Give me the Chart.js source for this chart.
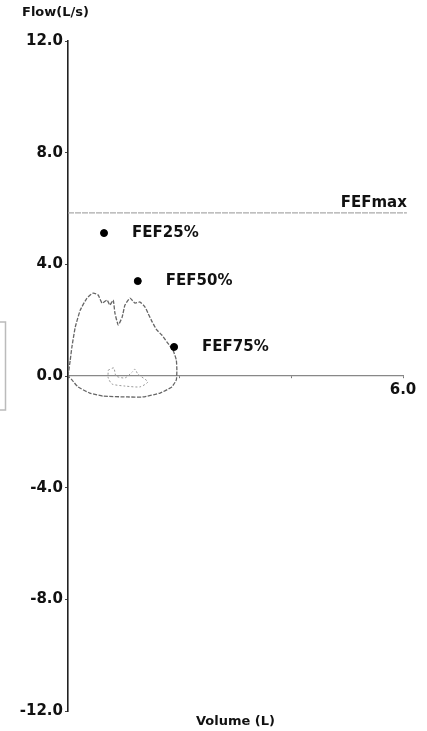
<!DOCTYPE html>
<html>
<head>
<meta charset="utf-8">
<script src="https://cdn.jsdelivr.net/npm/chart.js@4"></script>
<style>
  html, body { margin: 0; padding: 0; background: #fff; }
  #wrap { width: 427px; height: 731px; position: relative; }
</style>
</head>
<body>
<div id="wrap"><canvas id="flowChart"></canvas></div>
<script>
// === Data ===
// expiratory / inspiratory loop (volume L, flow L/s)
const loopVolume = [0, 0.04, 0.07, 0.13, 0.22, 0.34, 0.45, 0.54, 0.61, 0.70, 0.75, 0.81, 0.84, 0.90, 0.97, 1.02, 1.11, 1.20, 1.29, 1.38, 1.43, 1.51, 1.59, 1.68, 1.77, 1.88, 1.94, 1.95, 1.94, 1.86, 1.65, 1.34, 1.06, 0.63, 0.39, 0.18, 0.07, 0];
const loopFlow   = [0, 0.57, 1.04, 1.75, 2.36, 2.79, 2.97, 2.90, 2.61, 2.72, 2.54, 2.72, 2.26, 1.83, 2.11, 2.54, 2.79, 2.61, 2.65, 2.47, 2.26, 1.93, 1.65, 1.47, 1.22, 0.93, 0.57, 0.21, -0.14, -0.39, -0.61, -0.75, -0.75, -0.72, -0.61, -0.39, -0.14, 0];

// small faint inner loop
const innerVolume = [0.72, 0.82, 0.86, 1.02, 1.15, 1.20, 1.25, 1.43, 1.29, 1.02, 0.79, 0.72, 0.72];
const innerFlow   = [0.21, 0.29, 0.00, -0.07, 0.14, 0.25, 0.07, -0.21, -0.39, -0.36, -0.29, -0.07, 0.21];

// FEF points
const fefLabels = ["FEF25%", "FEF50%", "FEF75%"];
const fefVolume = [0.645, 1.25, 1.90];
const fefFlow   = [5.12, 3.40, 1.04];

// FEFmax reference line
const fefMax = 5.84;
const fefMaxVolume = [0, 6.07];

// axes
const yTicks = [-12, -8, -4, 0, 4, 8, 12];
const xTicks = [0, 2, 4, 6];
const xLabelTicks = [6];

const toPoints = (xs, ys) => xs.map((x, i) => ({ x: x, y: ys[i] }));

const FONT = "'DejaVu Sans', sans-serif";

// === Extra text drawn on top ===
const textPlugin = {
  id: "flowText",
  afterDatasetsDraw(chart) {
    const ctx = chart.ctx;
    const xs = chart.scales.x;
    const ys = chart.scales.y;
    const area = chart.chartArea;
    ctx.save();
    ctx.fillStyle = "#111";

    // point labels
    ctx.font = "bold 15px " + FONT;
    ctx.textAlign = "left";
    ctx.textBaseline = "middle";
    const meta = chart.getDatasetMeta(3);
    meta.data.forEach((pt, i) => {
      ctx.fillText(fefLabels[i], pt.x + 28, pt.y);
    });

    // FEFmax
    ctx.textAlign = "right";
    ctx.textBaseline = "bottom";
    ctx.fillText("FEFmax", xs.getPixelForValue(fefMaxVolume[1]), ys.getPixelForValue(fefMax) - 2);

    // axis titles
    ctx.font = "bold 13px " + FONT;
    ctx.textAlign = "left";
    ctx.textBaseline = "middle";
    ctx.fillText("Flow(L/s)", area.left - 46, 13);
    ctx.textAlign = "center";
    ctx.fillText("Volume (L)", xs.getPixelForValue(3), area.bottom + 11);

    // clipped box at the left edge
    ctx.strokeStyle = "#bbb";
    ctx.lineWidth = 1.5;
    ctx.strokeRect(-10, 322, 15.5, 88);
    ctx.restore();
  }
};

// === Chart ===
new Chart(document.getElementById("flowChart"), {
  type: "scatter",
  data: {
    datasets: [
      {
        label: "Loop",
        data: toPoints(loopVolume, loopFlow),
        showLine: true,
        borderColor: "#666",
        borderWidth: 1.3,
        borderDash: [4, 1.5],
        pointRadius: 0,
        tension: 0.15,
        order: 2,
      },
      {
        label: "Inner",
        data: toPoints(innerVolume, innerFlow),
        showLine: true,
        borderColor: "#999",
        borderWidth: 1,
        borderDash: [2, 2],
        pointRadius: 0,
        tension: 0.2,
        order: 3,
      },
      {
        label: "FEFmax",
        data: toPoints(fefMaxVolume, [fefMax, fefMax]),
        showLine: true,
        borderColor: "#aaa",
        borderWidth: 1.2,
        borderDash: [6, 1],
        pointRadius: 0,
        clip: false,
        order: 4,
      },
      {
        label: "FEF",
        data: toPoints(fefVolume, fefFlow),
        backgroundColor: "#000",
        borderColor: "#000",
        pointRadius: 3.5,
        order: 1,
      },
    ],
  },
  options: {
    responsive: true,
    maintainAspectRatio: false,
    animation: false,
    layout: { padding: { top: 41, right: 24, bottom: 20, left: 0 } },
    plugins: {
      legend: { display: false },
      tooltip: { enabled: false },
    },
    scales: {
      x: {
        type: "linear",
        min: 0,
        max: 6,
        position: { y: 0 },
        afterFit: (scale) => { scale.height = 0; },
        afterBuildTicks: (scale) => { scale.ticks = xTicks.map((v) => ({ value: v })); },
        border: { color: "#888", width: 1.2 },
        grid: { drawOnChartArea: false, tickLength: 2, color: "#777" },
        ticks: {
          autoSkip: false,
          maxRotation: 0,
          padding: 3,
          color: "#111",
          font: { family: FONT, size: 15, weight: "bold" },
          callback: (v) => (xLabelTicks.includes(v) ? v.toFixed(1) : ""),
        },
      },
      y: {
        min: yTicks[0],
        max: yTicks[yTicks.length - 1],
        afterFit: (scale) => { scale.width = 68; },
        afterBuildTicks: (scale) => { scale.ticks = yTicks.map((v) => ({ value: v })); },
        border: { color: "#222", width: 1.6 },
        grid: { drawOnChartArea: false, tickLength: 3, color: "#444" },
        ticks: {
          padding: 2,
          color: "#111",
          font: { family: FONT, size: 15, weight: "bold" },
          callback: (v) => v.toFixed(1),
        },
      },
    },
  },
  plugins: [textPlugin],
});
</script>
</body>
</html>
